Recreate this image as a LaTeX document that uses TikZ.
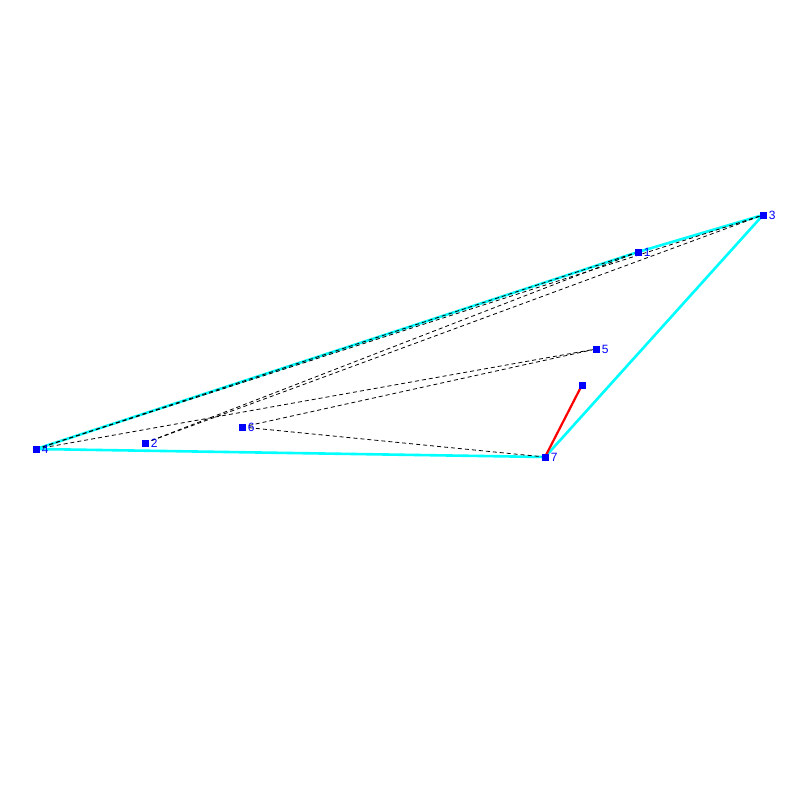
\documentclass[tikz,border=0pt]{standalone}
\usepackage{fontspec}
\setmainfont{Liberation Sans}
\definecolor{hullcyan}{RGB}{0,255,255}
\definecolor{ptblue}{RGB}{0,0,255}
\definecolor{segred}{RGB}{255,0,0}
\begin{document}
\begin{tikzpicture}[x=1pt,y=-1pt,
  pt/.style={fill=ptblue,inner sep=0pt,minimum size=7pt,draw=none},
  lab/.style={text=ptblue,font=\fontsize{12}{12}\selectfont,inner sep=0pt,anchor=west},
  hull/.style={hullcyan,line width=2.6pt},
  dsh/.style={black,line width=0.8pt,dash pattern=on 4pt off 3pt},
  redl/.style={segred,line width=2.2pt}]
\useasboundingbox (0,0) rectangle (800,800);
\coordinate (p1) at (638,252);
\coordinate (p2) at (145,443);
\coordinate (p3) at (763,215);
\coordinate (p4) at (36,449);
\coordinate (p5) at (596,349);
\coordinate (p6) at (242,427);
\coordinate (p7) at (545,457);
\coordinate (p8) at (582,385);
% hull
\draw[hull,line join=round] (p4) -- (p1) -- (p3) -- (p7) -- cycle;
% dashed
\draw[dsh] (p4) -- (p1);
\draw[dsh] (p4) -- (p3);
\draw[dsh] (p4) -- (p5);
\draw[dsh] (p2) -- (p1);
\draw[dsh] (p2) -- (p3);
\draw[dsh] (p6) -- (p5);
\draw[dsh] (p6) -- (p7);
% red
\draw[redl] (p7) -- (p8);
% points
\foreach \i in {1,...,8} {\node[pt] (n\i) at (p\i) {};}
\foreach \i in {1,...,7} {\node[lab] (l\i) at ([xshift=2pt]n\i.east) {\i};}
\end{tikzpicture}
\end{document}
